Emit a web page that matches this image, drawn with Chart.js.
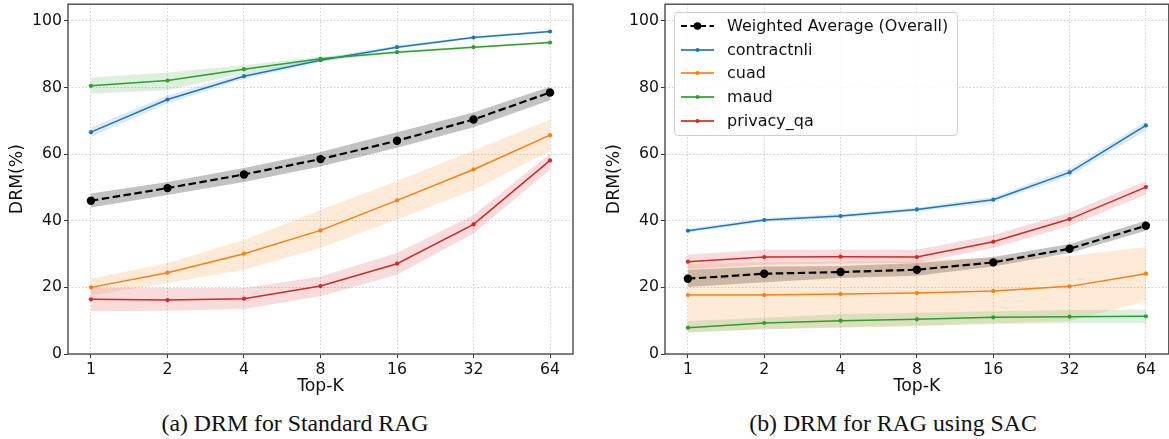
<!DOCTYPE html>
<html>
<head>
<meta charset="utf-8">
<script src="https://cdn.jsdelivr.net/npm/chart.js@4"></script>
<style>
  html, body { margin:0; padding:0; background:#fff; width:1169px; height:439px; overflow:hidden; }
  .wrap { position:absolute; top:0; height:400px; }
  .cap { position:absolute; top:410px; font-family:"Liberation Serif", "Times New Roman", serif; font-size:23.8px; color:#111; white-space:nowrap; transform:translateX(-50%); }
  .legend { position:absolute; left:674px; top:12px; width:284px; height:124px; border:1px solid #d0d0d0; border-radius:4px; background:rgba(255,255,255,0.85); font-family:"DejaVu Sans", sans-serif; font-size:16px; color:#111; z-index:5; box-sizing:border-box; }
  .legend .row { position:absolute; left:0; height:20px; }
  .legend svg { position:absolute; left:5px; top:0; }
  .legend span { position:absolute; left:52px; top:0; line-height:20px; white-space:nowrap; }
</style>
</head>
<body>
<div class="wrap" style="left:0;width:585px;"><canvas id="c1" width="585" height="400"></canvas></div>
<div class="wrap" style="left:597px;width:576px;"><canvas id="c2" width="576" height="400"></canvas></div>
<div class="cap" style="left:295px;">(a) DRM for Standard RAG</div>
<div class="cap" style="left:893px;">(b) DRM for RAG using SAC</div>
<div class="legend" id="legend"></div>
<script>
// ---------------- DATA ----------------
const topK = [1, 2, 4, 8, 16, 32, 64];
const tickLabels = ['1', '2', '4', '8', '16', '32', '64'];
const seriesNames = ['Weighted Average (Overall)', 'contractnli', 'cuad', 'maud', 'privacy_qa'];
const seriesColors = ['#000000', '#1f77b4', '#ff7f0e', '#2ca02c', '#d62728'];
const bandColors = ['rgba(0,0,0,0.24)', 'rgba(31,119,180,0.16)', 'rgba(255,127,14,0.16)', 'rgba(44,160,44,0.16)', 'rgba(214,39,40,0.16)'];

// (a) Standard RAG
const stdWeighted   = [46.0, 49.8, 53.9, 58.5, 64.0, 70.4, 78.5];
const stdWeightedLo = [44.0, 47.7, 51.6, 56.3, 61.9, 68.1, 76.2];
const stdWeightedHi = [48.2, 51.6, 55.8, 60.6, 66.6, 72.5, 80.2];
const stdContract   = [66.6, 76.4, 83.4, 88.2, 92.1, 95.0, 96.8];
const stdContractLo = [65.2, 75.3, 82.6, 87.6, 91.6, 94.6, 96.4];
const stdContractHi = [68.0, 77.6, 84.3, 88.8, 92.6, 95.4, 97.2];
const stdCuad       = [20.0, 24.4, 30.1, 37.1, 46.1, 55.4, 65.7];
const stdCuadLo     = [17.6, 21.3, 25.3, 31.8, 40.4, 49.2, 60.9];
const stdCuadHi     = [22.6, 27.3, 34.2, 43.2, 51.9, 61.1, 70.4];
const stdMaud       = [80.5, 82.1, 85.5, 88.6, 90.6, 92.1, 93.5];
const stdMaudLo     = [78.2, 79.2, 84.3, 88.0, 90.2, 91.8, 93.2];
const stdMaudHi     = [83.0, 84.5, 86.7, 89.2, 91.0, 92.4, 93.8];
const stdPrivacy    = [16.4, 16.2, 16.6, 20.4, 27.1, 38.9, 58.1];
const stdPrivacyLo  = [12.8, 13.0, 13.5, 17.3, 23.8, 36.2, 55.3];
const stdPrivacyHi  = [19.8, 19.8, 19.8, 23.3, 30.3, 41.7, 60.1];

// (b) RAG using SAC
const sacWeighted   = [22.6, 24.1, 24.6, 25.3, 27.5, 31.6, 38.5];
const sacWeightedLo = [20.1, 21.5, 22.8, 23.5, 26.3, 30.3, 37.0];
const sacWeightedHi = [25.3, 26.3, 26.4, 27.3, 29.1, 33.0, 40.0];
const sacContract   = [37.0, 40.2, 41.4, 43.4, 46.3, 54.5, 68.6];
const sacContractLo = [36.4, 39.6, 40.8, 42.8, 45.5, 53.4, 67.1];
const sacContractHi = [37.6, 40.8, 42.0, 44.0, 47.1, 55.6, 69.9];
const sacCuad       = [17.7, 17.7, 18.0, 18.3, 18.9, 20.3, 24.1];
const sacCuadLo     = [6.6, 7.4, 7.9, 8.4, 9.2, 9.9, 15.8];
const sacCuadHi     = [27.0, 27.5, 27.8, 28.1, 28.8, 29.4, 32.1];
const sacMaud       = [7.9, 9.3, 10.0, 10.4, 11.0, 11.2, 11.3];
const sacMaudLo     = [6.4, 7.4, 8.0, 8.4, 9.0, 9.2, 9.2];
const sacMaudHi     = [9.9, 10.9, 12.0, 12.4, 12.8, 13.2, 13.3];
const sacPrivacy    = [27.7, 29.1, 29.2, 29.1, 33.7, 40.5, 50.1];
const sacPrivacyLo  = [25.5, 26.8, 27.2, 27.3, 31.8, 38.4, 47.9];
const sacPrivacyHi  = [29.9, 31.3, 31.3, 31.3, 35.7, 42.5, 51.9];

const yTicks = [0, 20, 40, 60, 80, 100];

// ---------------- BUILD ----------------
const FONT = "'DejaVu Sans', sans-serif";
const TICK_SIZE = 15.7;
const TITLE_SIZE = 17.3;
function pts(arr) { return topK.map((k, i) => ({ x: k, y: arr[i] })); }

function buildDatasets(series) {
  const ds = [];
  series.forEach((s, si) => {
    ds.push({ data: pts(s.lo), borderWidth: 0, pointRadius: 0, fill: false, order: 100 - si * 2, borderColor: 'rgba(0,0,0,0)' });
    ds.push({ data: pts(s.hi), borderWidth: 0, pointRadius: 0, fill: '-1', backgroundColor: bandColors[si], order: 99 - si * 2, borderColor: 'rgba(0,0,0,0)' });
  });
  series.forEach((s, si) => {
    const isW = si === 0;
    ds.push({
      label: seriesNames[si],
      data: pts(s.v),
      borderColor: seriesColors[si],
      backgroundColor: seriesColors[si],
      pointBackgroundColor: seriesColors[si],
      pointBorderWidth: 0,
      pointRadius: isW ? 4.2 : 2.1,
      borderWidth: isW ? 2.2 : 1.5,
      borderDash: isW ? [7.5, 3.5] : [],
      fill: false,
      tension: 0,
      order: isW ? 0 : 10 - si
    });
  });
  return ds;
}

const framePlugin = {
  id: 'frame',
  afterDraw(chart) {
    const { ctx, chartArea: a } = chart;
    ctx.save();
    ctx.strokeStyle = '#4a4a4a';
    ctx.lineWidth = 1.4;
    ctx.strokeRect(a.left, a.top, a.right - a.left, a.bottom - a.top);
    ctx.restore();
  }
};

const gridOpts = { color: 'rgba(150,150,150,0.55)', lineWidth: 0.8, tickColor: '#333', tickLength: 4, tickWidth: 1, tickBorderDash: [] };
const borderOpts = { display: false, dash: [1.5, 2] };

function makeChart(id, series, padRight) {
  new Chart(document.getElementById(id), {
    type: 'line',
    data: { datasets: buildDatasets(series) },
    plugins: [framePlugin],
    options: {
      responsive: false,
      animation: false,
      events: [],
      layout: { padding: { left: 0, top: 3, right: padRight, bottom: 0 } },
      plugins: { legend: { display: false }, tooltip: { enabled: false } },
      scales: {
        x: {
          type: 'logarithmic',
          min: Math.pow(2, -0.3),
          max: Math.pow(2, 6.3),
          afterBuildTicks(scale) { scale.ticks = topK.map(v => ({ value: v })); },
          afterFit(scale) { scale.height = 46; scale.paddingLeft = 0; scale.paddingRight = 0; },
          ticks: {
            autoSkip: false, maxRotation: 0, padding: 3, color: '#111',
            font: { family: FONT, size: TICK_SIZE },
            callback: (v) => { const i = topK.indexOf(v); return i >= 0 ? tickLabels[i] : ''; }
          },
          grid: gridOpts,
          border: borderOpts,
          title: { display: true, text: 'Top-K', color: '#111', font: { family: FONT, size: TITLE_SIZE }, padding: { top: 0, bottom: 3 } }
        },
        y: {
          min: 0, max: 105,
          afterBuildTicks(scale) { scale.ticks = yTicks.map(v => ({ value: v })); },
          afterFit(scale) { scale.width = 68; scale.paddingTop = 0; scale.paddingBottom = 0; },
          ticks: { padding: 2, color: '#111', font: { family: FONT, size: TICK_SIZE } },
          grid: gridOpts,
          border: borderOpts,
          title: { display: true, text: 'DRM(%)', color: '#111', font: { family: FONT, size: TITLE_SIZE }, padding: { top: 7.5, bottom: 0 } }
        }
      }
    }
  });
}

makeChart('c1', [
  { v: stdWeighted, lo: stdWeightedLo, hi: stdWeightedHi },
  { v: stdContract, lo: stdContractLo, hi: stdContractHi },
  { v: stdCuad, lo: stdCuadLo, hi: stdCuadHi },
  { v: stdMaud, lo: stdMaudLo, hi: stdMaudHi },
  { v: stdPrivacy, lo: stdPrivacyLo, hi: stdPrivacyHi }
], 12);

makeChart('c2', [
  { v: sacWeighted, lo: sacWeightedLo, hi: sacWeightedHi },
  { v: sacContract, lo: sacContractLo, hi: sacContractHi },
  { v: sacCuad, lo: sacCuadLo, hi: sacCuadHi },
  { v: sacMaud, lo: sacMaudLo, hi: sacMaudHi },
  { v: sacPrivacy, lo: sacPrivacyLo, hi: sacPrivacyHi }
], 2);

// ---------------- LEGEND (HTML) ----------------
const legend = document.getElementById('legend');
const rowTops = [3, 27, 50, 74, 98];
seriesNames.forEach((name, i) => {
  const row = document.createElement('div');
  row.className = 'row';
  row.style.top = rowTops[i] + 'px';
  const isW = i === 0;
  const c = seriesColors[i];
  row.innerHTML =
    '<svg width="40" height="20">' +
    '<line x1="1" y1="10" x2="34" y2="10" stroke="' + c + '" stroke-width="2"' +
    (isW ? ' stroke-dasharray="6,3.5"' : ' stroke-opacity="0.85"') + '/>' +
    '<circle cx="17.5" cy="10" r="' + (isW ? 3.8 : 2) + '" fill="' + c + '"/></svg>' +
    '<span>' + name + '</span>';
  legend.appendChild(row);
});
</script>
</body>
</html>
